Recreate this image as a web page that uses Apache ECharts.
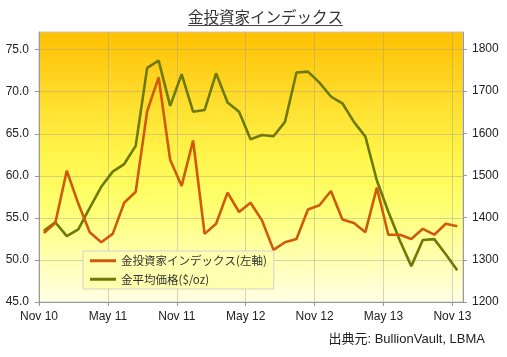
<!DOCTYPE html>
<html>
<head>
<meta charset="utf-8">
<script src="https://cdn.jsdelivr.net/npm/echarts@6/dist/echarts.min.js"></script>
<style>
html,body{margin:0;padding:0;background:#fff;}
#chart{width:507px;height:357px;}
</style>
</head>
<body>
<div id="chart"></div>
<script>
// Monthly data, Nov 2010 .. Nov 2013
const months = ['2010-11','2010-12','2011-01','2011-02','2011-03','2011-04','2011-05','2011-06','2011-07','2011-08','2011-09','2011-10','2011-11','2011-12','2012-01','2012-02','2012-03','2012-04','2012-05','2012-06','2012-07','2012-08','2012-09','2012-10','2012-11','2012-12','2013-01','2013-02','2013-03','2013-04','2013-05','2013-06','2013-07','2013-08','2013-09','2013-10','2013-11'];
const indexValues = [53.2,54.4,60.6,56.7,53.3,52.1,53.1,56.8,58.1,67.7,71.7,61.9,58.8,64.2,53.1,54.3,58.0,55.7,56.8,54.7,51.2,52.1,52.5,56.0,56.5,58.2,54.8,54.4,53.3,58.6,53.0,53.0,52.5,53.7,53.0,54.3,54.0];
const goldValues = [1369,1389,1356,1372,1423,1473,1509,1527,1570,1755,1772,1665,1740,1651,1655,1742,1673,1651,1586,1596,1593,1627,1744,1746,1720,1687,1671,1627,1592,1488,1414,1346,1285,1347,1349,1313,1275];
const tickLabels = ['Nov 10','May 11','Nov 11','May 12','Nov 12','May 13','Nov 13'];
const leftTicks = [45, 50, 55, 60, 65, 70, 75];
const rightTicks = [1200, 1300, 1400, 1500, 1600, 1700, 1800];
const seriesNames = ['金投資家インデックス(左軸)','金平均価格($/oz)'];
const titleText = '金投資家インデックス';
const sourceText = '出典元: BullionVault, LBMA';

const midMonth = 13 / 31; // observations dated mid-month
const idxData = indexValues.map((v, i) => [i + midMonth, v]);
const goldData = goldValues.map((v, i) => [i + midMonth, v]);
const xTickValues = tickLabels.map((_, k) => k * 6);

const FONT = '"Liberation Sans", Arial, "Noto Sans CJK JP", sans-serif';
const chart = echarts.init(document.getElementById('chart'), null, {renderer: 'canvas'});
const axisLabelStyle = {color: '#222', fontSize: 12, fontFamily: FONT};
const gridLine = {show: true, lineStyle: {color: 'rgba(150,150,150,0.4)', width: 1}};

chart.setOption({
  animation: false,
  backgroundColor: '#fff',
  grid: {
    left: 39, right: 44, top: 32, bottom: 55,
    show: true,
    borderColor: '#c8c8c8', borderWidth: 1,
    backgroundColor: {
      type: 'linear', x: 0, y: 0, x2: 0, y2: 1,
      colorStops: [
        {offset: 0, color: '#FFC000'},
        {offset: 0.22, color: '#FFD928'},
        {offset: 0.45, color: '#FFF448'},
        {offset: 0.62, color: '#FFFF6A'},
        {offset: 1, color: '#FFFFE4'}
      ]
    }
  },
  legend: {
    orient: 'vertical',
    left: 83, top: 251,
    data: seriesNames,
    icon: 'rect', itemWidth: 26, itemHeight: 3,
    itemGap: 7,
    padding: [4, 7, 4, 7],
    backgroundColor: '#FFFFB0',
    borderColor: '#cfcfcf', borderWidth: 1,
    textStyle: {color: '#333', fontSize: 11.5, fontFamily: '"Noto Sans CJK JP", sans-serif'}
  },
  xAxis: {
    type: 'value', min: 0, max: 36.92, interval: 6,
    axisLine: {show: true, lineStyle: {color: '#999'}},
    axisTick: {show: true, length: 4, lineStyle: {color: '#999'}, customValues: xTickValues},
    axisLabel: Object.assign({}, axisLabelStyle, {
      margin: 9, customValues: xTickValues,
      formatter: v => tickLabels[Math.round(v / 6)] || ''
    }),
    splitLine: gridLine
  },
  yAxis: [
    {
      type: 'value', min: 45, max: 77.1, interval: 5, position: 'left',
      axisLine: {show: true, lineStyle: {color: '#999'}},
      axisTick: {show: true, length: 4, lineStyle: {color: '#999'}, customValues: leftTicks},
      axisLabel: Object.assign({}, axisLabelStyle, {margin: 10, customValues: leftTicks, formatter: v => Number(v).toFixed(1)}),
      splitLine: gridLine
    },
    {
      type: 'value', min: 1200, max: 1840, interval: 100, position: 'right',
      axisLine: {show: true, lineStyle: {color: '#999'}},
      axisTick: {show: true, length: 4, lineStyle: {color: '#999'}, customValues: rightTicks},
      axisLabel: Object.assign({}, axisLabelStyle, {margin: 9, customValues: rightTicks, formatter: v => String(Math.round(v))}),
      splitLine: {show: false}
    }
  ],
  series: [
    {
      name: seriesNames[0], type: 'line', yAxisIndex: 0, data: idxData,
      symbol: 'none', color: '#D05A0C',
      lineStyle: {width: 2.6, color: '#D05A0C'}, z: 3
    },
    {
      name: seriesNames[1], type: 'line', yAxisIndex: 1, data: goldData,
      symbol: 'none', color: '#6E7A06',
      lineStyle: {width: 2.6, color: '#6E7A06'}, z: 2
    }
  ],
  graphic: [
    {
      type: 'text', left: 188, top: 9,
      style: {text: titleText, fill: '#333', fontSize: 15.5, fontFamily: '"Noto Sans CJK JP", sans-serif'}
    },
    {
      type: 'line', shape: {x1: 188, y1: 25.5, x2: 343, y2: 25.5},
      style: {stroke: '#444', lineWidth: 1}
    },
    {
      type: 'text', right: 22, top: 333,
      style: {text: sourceText, fill: '#222', fontSize: 13, fontFamily: FONT}
    }
  ]
});
</script>
</body>
</html>
